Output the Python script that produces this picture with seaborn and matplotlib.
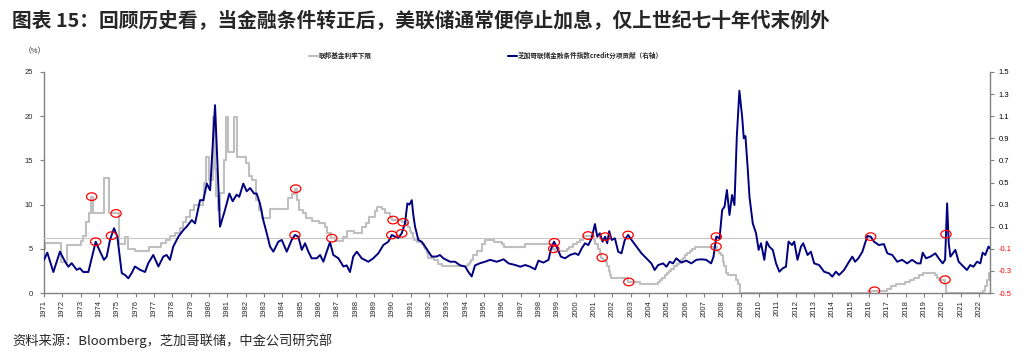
import numpy as np
import matplotlib
matplotlib.use("Agg")
from matplotlib import pyplot as plt
from matplotlib.lines import Line2D
from matplotlib.path import Path
from matplotlib.transforms import Affine2D
import seaborn as sns

# fed funds lower bound (%), step changes
gray_dates = [1971.00, 1971.08, 1971.90, 1972.25, 1973.00, 1973.15, 1973.30, 1973.45, 1973.55, 1973.68,
              1974.28, 1974.52, 1975.08, 1975.42, 1975.60, 1975.95, 1976.72, 1977.40, 1977.65, 1977.85,
              1978.15, 1978.40, 1978.60, 1978.75, 1978.95, 1979.20, 1979.65, 1979.75, 1979.85, 1980.00,
              1980.20, 1980.30, 1980.40, 1980.48, 1980.62, 1980.80, 1980.92, 1981.05, 1981.35, 1981.50,
              1982.00, 1982.18, 1982.35, 1982.55, 1982.72, 1982.90, 1983.30, 1984.30, 1984.55, 1984.70,
              1984.80, 1984.92, 1985.10, 1985.30, 1985.60, 1986.00, 1986.30, 1986.45, 1986.65, 1986.85,
              1987.30, 1987.55, 1987.90, 1988.35, 1988.55, 1988.75, 1989.05, 1989.15, 1989.45, 1989.60,
              1989.85, 1990.00, 1990.55, 1990.80, 1990.88, 1990.95, 1991.02, 1991.10, 1991.20, 1991.33,
              1991.60, 1991.70, 1991.80, 1991.88, 1991.97, 1992.28, 1992.50, 1992.70, 1994.10, 1994.22,
              1994.30, 1994.38, 1994.62, 1994.88, 1995.08, 1995.52, 1995.97, 1996.08, 1997.23, 1998.75,
              1998.79, 1998.88, 1999.50, 1999.65, 1999.88, 2000.08, 2000.22, 2000.38, 2001.01, 2001.08,
              2001.22, 2001.30, 2001.38, 2001.49, 2001.65, 2001.72, 2001.80, 2001.85, 2001.95, 2002.85,
              2003.49, 2004.50, 2004.61, 2004.73, 2004.86, 2004.96, 2005.08, 2005.22, 2005.35, 2005.50,
              2005.61, 2005.72, 2005.86, 2005.96, 2006.08, 2006.23, 2006.36, 2006.49, 2007.72, 2007.83,
              2007.95, 2008.06, 2008.08, 2008.21, 2008.33, 2008.77, 2008.83, 2008.96, 2015.96, 2016.96,
              2017.21, 2017.46, 2017.96, 2018.22, 2018.46, 2018.73, 2018.97, 2019.58, 2019.71, 2019.83,
              2020.17, 2020.21, 2022.21, 2022.34, 2022.46, 2022.57, 2022.60]
gray_vals = [5.0, 5.6, 3.5, 5.4, 5.9, 6.5, 8.0, 9.0, 10.9, 9.0,
             13.0, 9.0, 5.5, 6.3, 5.0, 4.75, 5.25, 5.6, 6.0, 6.5,
             6.8, 7.3, 8.0, 8.6, 9.4, 10.0, 10.5, 12.4, 15.4, 12.8,
             19.9, 14.0, 11.0, 9.4, 11.3, 15.0, 19.9, 16.0, 19.9, 15.4,
             14.7, 13.2, 12.8, 10.5, 9.4, 8.45, 9.5, 10.7, 11.2, 11.8,
             10.5, 9.4, 9.0, 8.45, 8.1, 7.9, 7.5, 6.75, 6.2, 5.9,
             6.3, 7.0, 6.75, 7.5, 7.9, 8.6, 9.25, 9.75, 9.5, 9.0,
             8.5, 8.25, 8.0, 7.75, 7.5, 7.0, 6.75, 6.25, 6.0, 5.75,
             5.5, 5.25, 5.0, 4.5, 4.0, 3.75, 3.25, 3.0, 3.25, 3.5,
             3.75, 4.25, 4.75, 5.5, 6.0, 5.75, 5.5, 5.25, 5.5, 5.25,
             5.0, 4.75, 5.0, 5.25, 5.5, 5.75, 6.0, 6.5, 6.0, 5.5,
             5.0, 4.5, 4.0, 3.75, 3.5, 3.0, 2.5, 2.0, 1.75, 1.25,
             1.0, 1.25, 1.5, 1.75, 2.0, 2.25, 2.5, 2.75, 3.0, 3.25,
             3.5, 3.75, 4.0, 4.25, 4.5, 4.75, 5.0, 5.25, 4.75, 4.5,
             4.25, 3.5, 3.0, 2.25, 2.0, 1.5, 1.0, 0.0, 0.25, 0.5,
             0.75, 1.0, 1.25, 1.5, 1.75, 2.0, 2.25, 2.0, 1.75, 1.5,
             1.0, 0.0, 0.25, 0.75, 1.5, 2.25, 2.25]

# Chicago Fed NFCI credit subindex contribution (right axis)
blue_dates = [1971.00, 1971.18, 1971.51, 1971.87, 1972.15, 1972.33, 1972.51, 1972.78, 1972.96, 1973.14,
              1973.42, 1973.60, 1973.82, 1974.06, 1974.27, 1974.42, 1974.60, 1974.82, 1975.00, 1975.24,
              1975.42, 1975.60, 1975.78, 1975.96, 1976.24, 1976.51, 1976.69, 1976.96, 1977.24, 1977.51,
              1977.69, 1977.87, 1978.05, 1978.33, 1978.60, 1978.78, 1979.06, 1979.24, 1979.51, 1979.69,
              1979.88, 1980.06, 1980.33, 1980.60, 1980.87, 1981.11, 1981.29, 1981.51, 1981.65, 1981.87,
              1982.06, 1982.24, 1982.46, 1982.60, 1982.78, 1982.96, 1983.15, 1983.33, 1983.51, 1983.78,
              1983.97, 1984.24, 1984.51, 1984.69, 1984.87, 1985.06, 1985.24, 1985.42, 1985.60, 1985.88,
              1986.06, 1986.24, 1986.42, 1986.60, 1986.78, 1987.06, 1987.33, 1987.51, 1987.69, 1987.87,
              1988.06, 1988.33, 1988.69, 1988.96, 1989.24, 1989.51, 1989.78, 1989.97, 1990.15, 1990.33,
              1990.51, 1990.69, 1990.82, 1990.93, 1991.06, 1991.15, 1991.24, 1991.42, 1991.60, 1991.79,
              1991.97, 1992.15, 1992.42, 1992.60, 1992.78, 1993.15, 1993.42, 1993.70, 1993.97, 1994.15,
              1994.33, 1994.51, 1994.79, 1995.06, 1995.33, 1995.70, 1996.07, 1996.34, 1996.71, 1996.98,
              1997.25, 1997.52, 1997.79, 1997.97, 1998.24, 1998.52, 1998.64, 1998.82, 1999.00, 1999.19,
              1999.42, 1999.69, 1999.97, 2000.15, 2000.33, 2000.51, 2000.69, 2000.87, 2001.05, 2001.18,
              2001.32, 2001.47, 2001.61, 2001.72, 2001.83, 2001.96, 2002.14, 2002.32, 2002.50, 2002.68,
              2002.86, 2003.05, 2003.32, 2003.59, 2003.86, 2004.13, 2004.31, 2004.50, 2004.77, 2004.95,
              2005.13, 2005.31, 2005.49, 2005.76, 2006.03, 2006.31, 2006.58, 2006.85, 2007.12, 2007.39,
              2007.52, 2007.67, 2007.85, 2007.99, 2008.12, 2008.25, 2008.39, 2008.53, 2008.66, 2008.79,
              2008.93, 2009.08, 2009.17, 2009.26, 2009.39, 2009.48, 2009.66, 2009.84, 2009.98, 2010.11,
              2010.29, 2010.42, 2010.56, 2010.75, 2010.93, 2011.11, 2011.29, 2011.47, 2011.61, 2011.80,
              2011.92, 2012.10, 2012.29, 2012.41, 2012.65, 2012.83, 2013.01, 2013.28, 2013.55, 2013.82,
              2014.00, 2014.19, 2014.37, 2014.64, 2014.91, 2015.09, 2015.24, 2015.42, 2015.64, 2015.91,
              2016.09, 2016.27, 2016.54, 2016.81, 2017.00, 2017.27, 2017.54, 2017.81, 2018.08, 2018.35,
              2018.63, 2018.81, 2018.93, 2019.11, 2019.35, 2019.62, 2019.80, 2020.02, 2020.15, 2020.26,
              2020.35, 2020.44, 2020.71, 2020.89, 2021.16, 2021.34, 2021.52, 2021.70, 2021.89, 2022.07,
              2022.20, 2022.34, 2022.52, 2022.60]
blue_vals = [-0.20, -0.135, -0.31, -0.126, -0.217, -0.262, -0.23, -0.29, -0.276, -0.31,
             -0.31, -0.186, -0.036, -0.126, -0.20, -0.17, -0.02, 0.086, 0.01, -0.32,
             -0.337, -0.367, -0.32, -0.26, -0.29, -0.31, -0.23, -0.156, -0.26, -0.17,
             -0.156, -0.20, -0.08, 0.01, 0.07, 0.10, 0.16, 0.13, 0.34, 0.34,
             0.49, 0.43, 1.20, 0.10, 0.25, 0.40, 0.33, 0.39, 0.37, 0.49,
             0.42, 0.45, 0.40, 0.40, 0.31, 0.16, 0.04, -0.08, -0.126, -0.036,
             -0.02, -0.126, -0.02, 0.025, 0.01, -0.11, -0.05, -0.126, -0.186, -0.186,
             -0.156, -0.217, -0.126, -0.04, -0.156, -0.186, -0.26, -0.25, -0.31, -0.17,
             -0.126, -0.186, -0.217, -0.186, -0.14, -0.066, -0.036, 0.025, 0.01, 0.0,
             0.04, 0.13, 0.31, 0.30, 0.34, 0.20, 0.10, -0.02, -0.036, -0.08,
             -0.126, -0.17, -0.17, -0.156, -0.186, -0.217, -0.217, -0.25, -0.26, -0.31,
             -0.35, -0.25, -0.23, -0.217, -0.20, -0.217, -0.195, -0.232, -0.247, -0.262,
             -0.247, -0.262, -0.286, -0.207, -0.225, -0.20, -0.11, -0.035, -0.096, -0.171,
             -0.186, -0.156, -0.141, -0.156, -0.096, -0.05, -0.066, -0.005, 0.124, 0.01,
             0.04, -0.035, 0.01, -0.05, 0.06, -0.02, -0.005, -0.126, -0.141, -0.02,
             0.025, -0.02, -0.08, -0.141, -0.186, -0.232, -0.292, -0.247, -0.232, -0.262,
             -0.217, -0.232, -0.186, -0.225, -0.207, -0.232, -0.20, -0.195, -0.20, -0.232,
             -0.171, 0.01, -0.005, 0.251, 0.281, 0.432, 0.206, 0.387, 0.296, 0.915,
             1.33, 1.096, 0.90, 0.92, 0.613, 0.372, 0.13, 0.04, -0.11, -0.05,
             -0.20, -0.035, -0.08, -0.11, -0.232, -0.307, -0.277, -0.262, -0.035, -0.066,
             -0.035, -0.20, -0.08, -0.05, -0.156, -0.126, -0.232, -0.247, -0.307, -0.322,
             -0.352, -0.307, -0.337, -0.292, -0.217, -0.171, -0.217, -0.186, -0.126, 0.016,
             0.01, -0.035, -0.066, -0.057, -0.141, -0.156, -0.217, -0.20, -0.232, -0.20,
             -0.232, -0.232, -0.135, -0.186, -0.171, -0.141, -0.186, -0.232, -0.20, 0.311,
             -0.05, -0.171, -0.11, -0.217, -0.262, -0.292, -0.247, -0.262, -0.217, -0.232,
             -0.135, -0.156, -0.08, -0.095]

# dates marked with red circles
gray_circle_dates = [1973.60, 1974.93, 1984.73, 1986.70, 1990.04, 1990.59, 1998.80,
                     2000.68, 2001.45, 2002.90, 2007.66, 2016.30, 2020.15]
blue_circle_dates = [1973.82, 1974.68, 1984.69, 1989.97, 1990.51, 1998.84, 2001.61,
                     2002.86, 2007.67, 2016.09, 2020.20]

years = list(range(1971, 2023))

sns.set_style("ticks")
plt.rcParams['font.family'] = ['Liberation Sans', 'Noto Sans CJK SC']
cjk = ['Noto Sans CJK SC', 'DejaVu Sans']

fig = plt.figure(figsize=(10.34, 3.58), dpi=100)
ax = fig.add_axes([44 / 1034, 1 - 293 / 358, 946 / 1034, 221 / 358])
ax2 = ax.twinx()

gray_c = '#BFBFBF'
blue_c = '#000080'
spine_c = '#808080'

sns.lineplot(x=gray_dates, y=gray_vals, ax=ax, color=gray_c, linewidth=1.5,
             drawstyle='steps-post', estimator=None)
ax2.axhline(0, color='#C8C8C8', linewidth=0.8, zorder=1)
sns.lineplot(x=blue_dates, y=blue_vals, ax=ax2, color=blue_c, linewidth=1.4,
             estimator=None, zorder=3)

ax.set_xlim(1971.0, 2022.6)
ax.set_ylim(0, 25)
ax2.set_ylim(-0.5, 1.5)
ax.set_yticks(np.arange(0, 26, 5))
ax2.set_yticks(np.round(np.arange(-0.5, 1.51, 0.2), 1))

# red ellipses, gray ones converted to right-axis units
ell = Path.unit_circle().transformed(Affine2D().scale(1.35, 1.0))
g_idx = np.searchsorted(gray_dates, gray_circle_dates, side='right') - 1
g_left = np.array(gray_vals)[g_idx]
lo, hi = ax.get_ylim()
lo2, hi2 = ax2.get_ylim()
g_right = lo2 + (g_left - lo) / (hi - lo) * (hi2 - lo2)
b_right = np.interp(blue_circle_dates, blue_dates, blue_vals)
ax2.scatter(gray_circle_dates, g_right, marker=ell, s=55, facecolors='none',
            edgecolors='red', linewidths=0.9, zorder=5)
ax2.scatter(blue_circle_dates, b_right, marker=ell, s=55, facecolors='none',
            edgecolors='red', linewidths=0.9, zorder=5)

for a in (ax, ax2):
    a.set_xlabel('')
    a.set_ylabel('')
    for side in ('left', 'right', 'bottom'):
        a.spines[side].set_color(spine_c)
        a.spines[side].set_linewidth(1.0)
    a.spines['top'].set_visible(False)

ax.spines['right'].set_visible(False)
ax2.spines['left'].set_visible(False)
ax2.spines['bottom'].set_visible(False)

ax.set_xticks(years)
ax.set_xticklabels([str(y) for y in years], rotation=90, fontsize=5.5)
ax.tick_params(axis='x', length=3, width=0.8, color=spine_c, pad=2)
ax.tick_params(axis='y', length=3, width=0.8, color=spine_c, pad=5, labelsize=5.5)
ax2.tick_params(axis='y', length=3, width=0.8, color=spine_c, pad=3, labelsize=5.5)
ax2.set_yticklabels([f'{v:.1f}' for v in ax2.get_yticks()])
for t, v in zip(ax2.get_yticklabels(), ax2.get_yticks()):
    t.set_color('red' if v < 0 else 'black')

fig.text(0.012, 1 - 21 / 358, '图表 15：回顾历史看，当金融条件转正后，美联储通常便停止加息，仅上世纪七十年代末例外',
         fontsize=14.2, fontweight='bold', va='center', ha='left', family=cjk)
fig.text(0.023, 1 - 51 / 358, '（%）', fontsize=5.5, va='center', ha='left', family=cjk)
fig.text(0.012, 1 - 341 / 358, '资料来源：Bloomberg，芝加哥联储，中金公司研究部',
         fontsize=9.5, va='center', ha='left', family=cjk)

prop = {'family': cjk, 'size': 4.8, 'weight': 'bold'}
h1 = Line2D([], [], color=gray_c, linewidth=1.5)
h2 = Line2D([], [], color=blue_c, linewidth=1.5)
fig.legend([h1], ['联邦基金利率下限'], loc='center left', prop=prop, frameon=False,
           bbox_to_anchor=(309 / 1034, 1 - 55.5 / 358), handlelength=1.4,
           handletextpad=0.1, borderpad=0, borderaxespad=0)
fig.legend([h2], ['芝加哥联储金融条件指数credit分项贡献（右轴）'], loc='center left', prop=prop,
           frameon=False, bbox_to_anchor=(508 / 1034, 1 - 55.5 / 358), handlelength=1.4,
           handletextpad=0.1, borderpad=0, borderaxespad=0)

plt.savefig('out.png', dpi=100)
